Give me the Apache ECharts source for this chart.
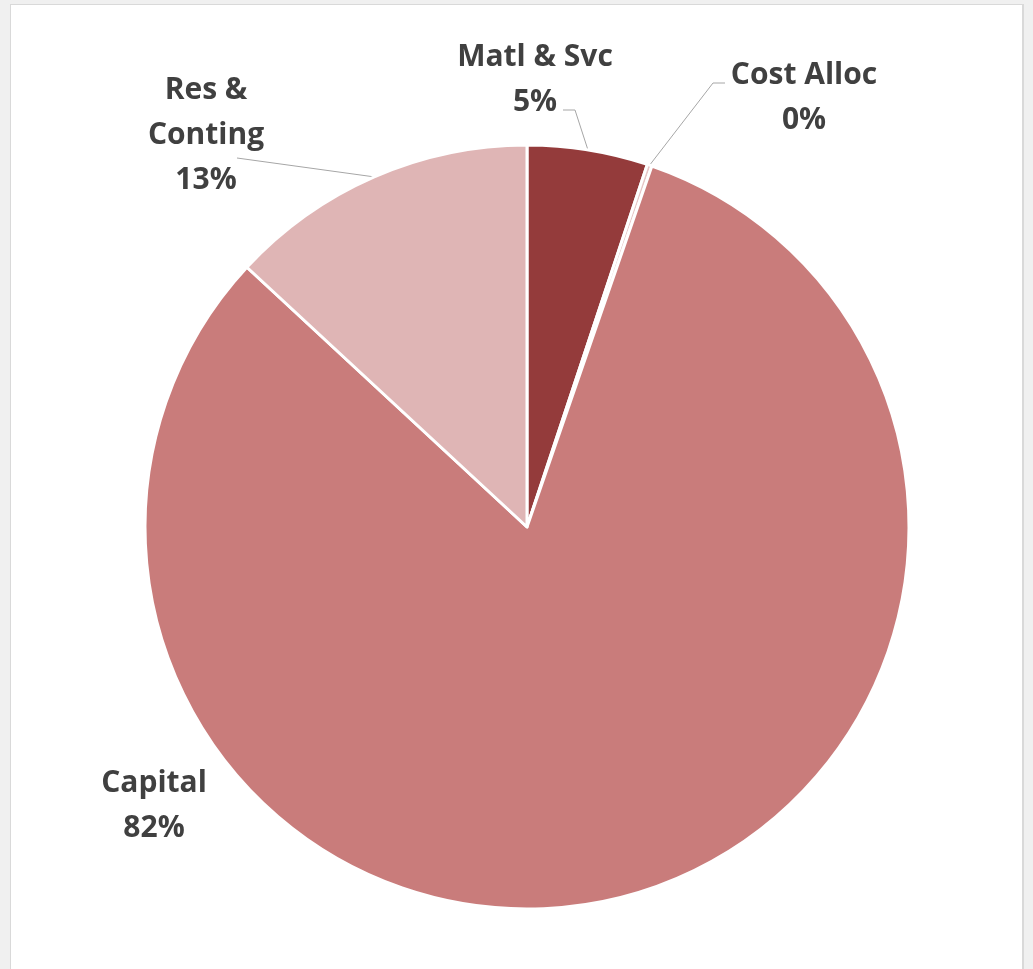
<!DOCTYPE html>
<html>
<head>
<meta charset="utf-8">
<script src="https://cdn.jsdelivr.net/npm/echarts@6/dist/echarts.min.js"></script>
<style>
  html, body { margin: 0; padding: 0; width: 1033px; height: 969px; background: #f0f0f0; overflow: hidden; }
  #panel { position: absolute; left: 10px; top: 4px; width: 1014px; height: 980px; background: #ffffff; border: 1px solid #d9d9d9; border-right-width: 2px; box-sizing: border-box; }
  #chart { position: absolute; left: 0; top: 0; width: 1033px; height: 969px; }
</style>
</head>
<body>
<div id="panel"></div>
<div id="chart"></div>
<script>
// ---- data ----
const categories = ['Matl & Svc', 'Cost Alloc', 'Capital', 'Res & Conting'];
const values = [5.1, 0.2, 81.6, 13.1];
const colors = ['#943B3B', '#E6C6C6', '#C97C7B', '#DFB5B5'];

// ---- label layout (page pixels), same order as categories ----
const labelLayouts = [
  { x: 535, y: 80,  line: [[40, 30], [28, 30]] },
  { x: 804, y: 98,  line: [[-91, -15], [-79, -15]] },
  { x: 154, y: 806, line: null },
  { x: 206, y: 135, line: [[31, 23], [31, 23]] }
];

function wrapName(name) {
  return name === 'Res & Conting' ? 'Res &\nConting' : name;
}

const chart = echarts.init(document.getElementById('chart'), null, { renderer: 'canvas' });

const data = categories.map((c, i) => ({
  name: c,
  value: values[i],
  itemStyle: { color: colors[i] },
  labelLine: { show: labelLayouts[i].line !== null }
}));

chart.setOption({
  backgroundColor: 'transparent',
  animation: false,
  series: [{
    type: 'pie',
    center: [527, 527],
    radius: 382,
    startAngle: 90,
    clockwise: true,
    avoidLabelOverlap: false,
    data: data,
    itemStyle: { borderColor: '#ffffff', borderWidth: 3 },
    label: {
      show: true,
      position: 'outside',
      formatter: p => wrapName(p.name) + '\n' + Math.round(p.percent) + '%',
      fontFamily: 'Open Sans',
      fontWeight: 'bold',
      fontSize: 30,
      lineHeight: 45,
      color: '#404040',
      align: 'center'
    },
    labelLine: {
      show: true,
      smooth: false,
      lineStyle: { color: '#a6a6a6', width: 1 }
    },
    labelLayout: function (params) {
      const L = labelLayouts[params.dataIndex];
      const res = { x: L.x, y: L.y, align: 'center', verticalAlign: 'middle' };
      if (L.line && params.labelLinePoints) {
        const s = params.labelLinePoints[0];
        res.labelLinePoints = [
          [s[0], s[1]],
          [L.x + L.line[0][0], L.y + L.line[0][1]],
          [L.x + L.line[1][0], L.y + L.line[1][1]]
        ];
      }
      return res;
    }
  }]
});
</script>
</body>
</html>
